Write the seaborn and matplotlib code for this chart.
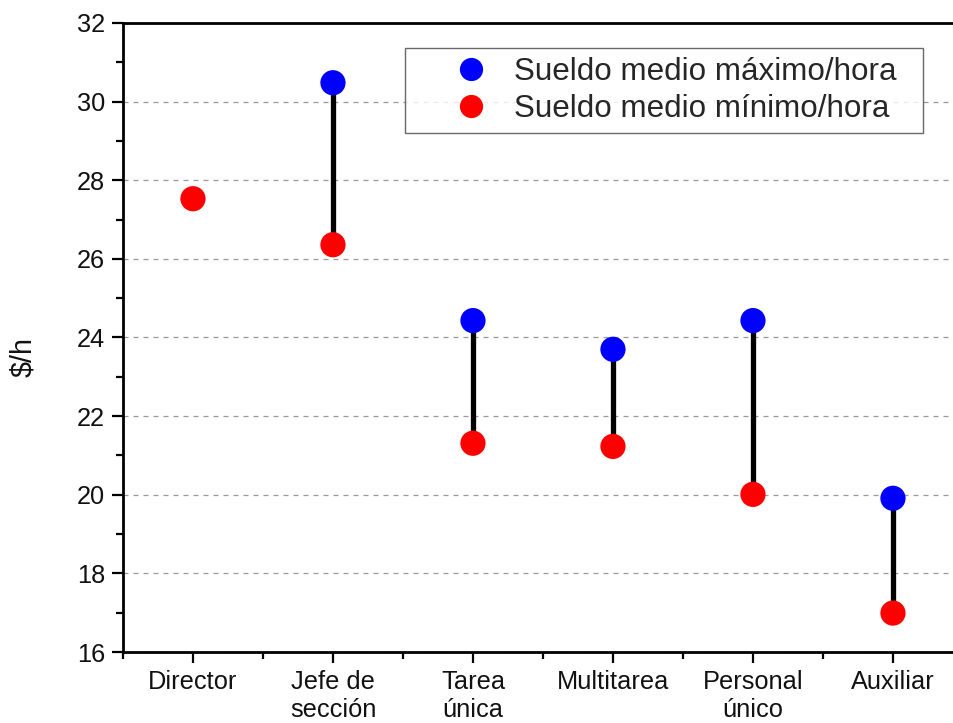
import numpy as np
import pandas as pd
import seaborn as sns
import matplotlib
matplotlib.use("Agg")
import matplotlib.pyplot as plt
from matplotlib.ticker import MultipleLocator, FixedLocator

categories = ["Director", "Jefe de\nsección", "Tarea\núnica", "Multitarea", "Personal\núnico", "Auxiliar"]
max_vals = [np.nan, 30.48, 24.43, 23.70, 24.43, 19.91]
min_vals = [27.53, 26.36, 21.31, 21.23, 20.01, 16.99]
series_labels = ["Sueldo medio máximo/hora", "Sueldo medio mínimo/hora"]
y_ticks = [16, 18, 20, 22, 24, 26, 28, 30, 32]

sns.set_theme(style="white")
plt.rcParams["font.family"] = ["Liberation Sans", "DejaVu Sans"]

fig = plt.figure(figsize=(9.54, 7.23), dpi=100)
ax = fig.add_axes([0.1289, 0.0982, 0.8805, 0.870])

pos = np.arange(len(categories))
df = pd.DataFrame({
    "pos": np.concatenate([pos, pos]),
    "val": max_vals + min_vals,
    "serie": [series_labels[0]] * len(categories) + [series_labels[1]] * len(categories),
}).dropna()

# connecting lines
mx = np.array(max_vals, dtype=float)
mn = np.array(min_vals, dtype=float)
ok = ~np.isnan(mx) & ~np.isnan(mn)
ax.vlines(pos[ok], mn[ok], mx[ok], colors="black", linewidth=3.8, zorder=2)

sns.scatterplot(data=df, x="pos", y="val", hue="serie",
                palette={series_labels[0]: "#0000ff", series_labels[1]: "#ff0000"},
                s=330, edgecolor="none", ax=ax, zorder=3, legend=True)

ax.set_xlim(-0.5, 5.5)
ax.set_ylim(16, 32)
ax.set_xticks(pos)
ax.set_xticklabels(categories)
ax.xaxis.set_minor_locator(FixedLocator(np.arange(-0.5, 5.6, 1.0)))
ax.set_yticks(y_ticks)
ax.yaxis.set_minor_locator(MultipleLocator(1))

ax.tick_params(axis="both", which="major", direction="out", length=8, width=1.6,
               labelsize=18.3, color="black", labelcolor="#111111", bottom=True, left=True, pad=5)
ax.tick_params(axis="both", which="minor", direction="out", length=5, width=1.6,
               color="black", bottom=True, left=True)

ax.yaxis.grid(True, which="major", linestyle=(0, (4, 4)), color="#9a9a9a", linewidth=0.9)
ax.xaxis.grid(False)
ax.set_axisbelow(True)

for sp in ax.spines.values():
    sp.set_color("black")
    sp.set_linewidth(2.0)
    sp.set_visible(True)

ax.set_xlabel("")
ax.set_ylabel("$/h", fontsize=20.7, color="#111111")
ax.yaxis.set_label_coords(-0.1024, 0.469)

handles, labels = ax.get_legend_handles_labels()
leg = ax.legend(handles, labels, loc="upper left",
                bbox_to_anchor=(0.3357, 0.9603, 0.6167, 0.0), mode="expand",
                borderaxespad=0, fontsize=22.6, frameon=True, fancybox=False,
                edgecolor="#444444", markerscale=0.92, handletextpad=-0.45,
                borderpad=0.3, labelspacing=0.2, handlelength=3.63, title=None)
leg.get_frame().set_linewidth(1.0)

fig.savefig("out.png", dpi=100)
